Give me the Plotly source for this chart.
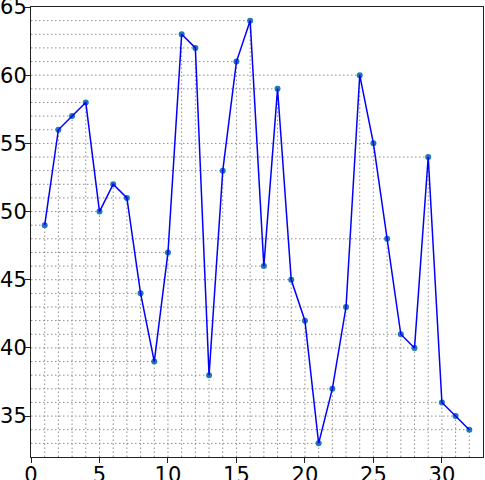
import plotly.graph_objects as go

# data
x_vals = list(range(1, 33))
y_vals = [49, 56, 57, 58, 50, 52, 51, 44, 39, 47, 63, 62, 38, 53, 61, 64,
          46, 59, 45, 42, 33, 37, 43, 60, 55, 48, 41, 40, 54, 36, 35, 34]
x_ticks = [0, 5, 10, 15, 20, 25, 30]
y_ticks = [35, 40, 45, 50, 55, 60, 65]

x_min, x_max = 0, 33
y_min, y_max = 32, 65

# guide lines: horizontal from the left axis, vertical down to the bottom
h_x, h_y, v_x, v_y = [], [], [], []
for xv, yv in zip(x_vals, y_vals):
    h_x += [x_min, xv, None]
    h_y += [yv, yv, None]
    v_x += [xv, xv, None]
    v_y += [y_min, yv, None]

guide = dict(color='#8c8c8c', width=1, dash='1.5px,2.5px')

fig = go.Figure()
fig.add_trace(go.Scatter(x=h_x, y=h_y, mode='lines', line=guide, hoverinfo='skip'))
fig.add_trace(go.Scatter(x=v_x, y=v_y, mode='lines', line=guide, hoverinfo='skip'))
fig.add_trace(go.Scatter(
    x=x_vals, y=y_vals, mode='markers',
    marker=dict(color='#1f77b4', size=6, line=dict(width=0))
))
fig.add_trace(go.Scatter(
    x=x_vals, y=y_vals, mode='lines',
    line=dict(color='#0000ff', width=1.5)
))

axis_style = dict(
    showgrid=False, zeroline=False, automargin=False,
    showline=True, linecolor='#222222', linewidth=1, mirror=True,
    ticks='outside', ticklen=5, tickwidth=1, tickcolor='#222222',
    tickfont=dict(family='DejaVu Sans', size=21, color='black'),
    ticklabeloverflow='allow',
)

fig.update_layout(
    width=485, height=480,
    margin=dict(l=31, r=2, t=7, b=23),
    showlegend=False,
    plot_bgcolor='white', paper_bgcolor='white',
    xaxis=dict(range=[x_min, x_max], tickvals=x_ticks, ticklabelstandoff=-6, **axis_style),
    yaxis=dict(range=[y_min, y_max], tickvals=y_ticks, ticklabelstandoff=-6, **axis_style),
)

# page body has a default margin; drop it so the figure sits at the corner
fig.write_html("out.html", config={'displayModeBar': False},
               post_script="document.body.style.margin='0';")
